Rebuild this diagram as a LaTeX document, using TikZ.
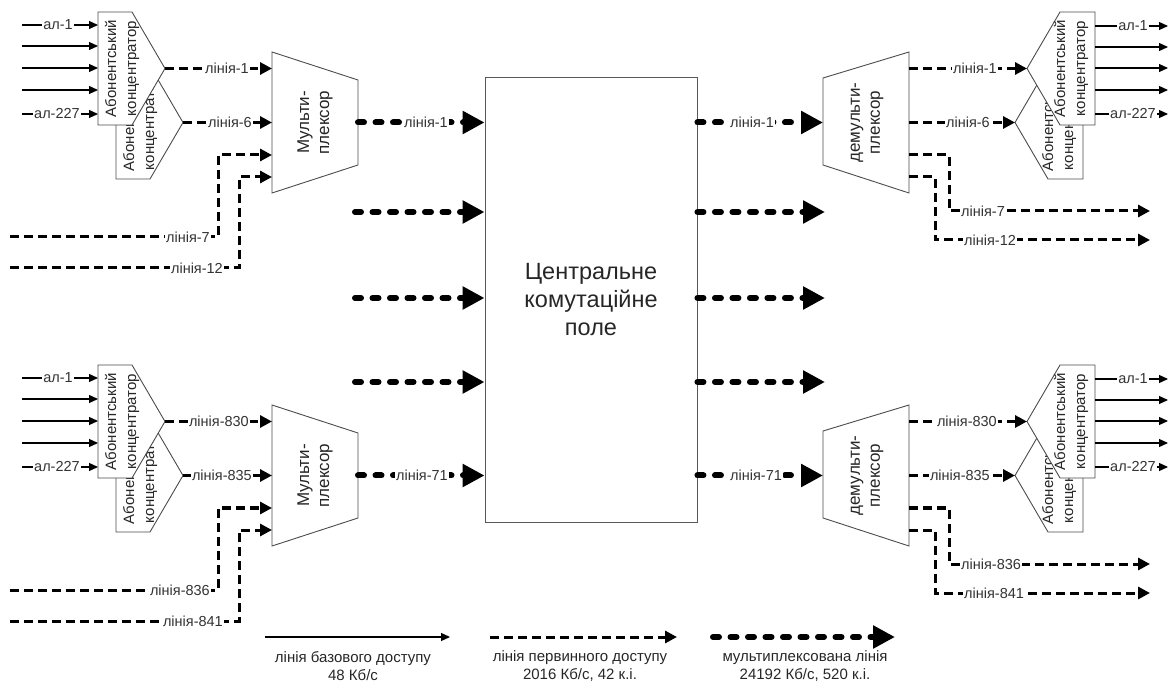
\documentclass[tikz,border=0pt]{standalone}
\usepackage{fontspec}
\setmainfont{Liberation Sans}
\usetikzlibrary{arrows.meta}
\tikzset{
  outline/.style={draw=black!70, line width=0.9pt, fill=white, line join=miter},
  basic/.style={line width=1.2pt, -{Triangle[length=9pt,width=8pt]}},
  prim/.style={line width=3pt, dash pattern=on 9pt off 5pt, -{Triangle[length=12pt,width=12pt]}},
  mult/.style={line width=6pt, line cap=round, dash pattern=on 6pt off 11.5pt, -{Triangle[length=22pt,width=22pt]}},
  lbl/.style={fill=white, inner sep=1pt, text=black!80, font=\fontsize{14.5}{14.5}\selectfont},
  vtext/.style={rotate=90, align=center, text=black!85, font=\fontsize{15}{20}\selectfont},
  mtext/.style={rotate=90, align=center, text=black!85, font=\fontsize{17}{20}\selectfont},
  legtext/.style={align=center, text=black!85, font=\fontsize{15}{18}\selectfont},
}
\begin{document}
\begin{tikzpicture}[x=1pt,y=-1pt]
\useasboundingbox (0,0) rectangle (1176,684);

% central switching field
\node[draw=black!65, line width=0.9pt, minimum width=212pt, minimum height=445pt,
      align=center, text=black!85, font=\fontsize{23.5}{28}\selectfont] (cb) at (591,299.5)
      {Центральне\\комутаційне\\поле};

% multiplexed lines between the field and the spare inputs/outputs
\foreach \yy/\k in {212/2,298/3,382/4} {
  \coordinate (fin\k) at (355,\yy);
  \coordinate (fout\k) at (825,\yy);
  \draw[mult] (fin\k) -- (cb.west |- fin\k);
  \draw[mult] (cb.east |- fout\k) -- (fout\k);
}

% two identical halves: upper and lower group of lines
\foreach \p/\dy/\la/\lb/\lc/\ld/\lm in {t/0/1/6/7/12/1, b/353/830/835/836/841/71} {

  % ---------- left side: subscriber concentrators ----------
  \draw[outline] (116,66+\dy) -- (150,66+\dy) -- (183,122.5+\dy) -- (150,179+\dy) -- (116,179+\dy) -- cycle;
  \node[vtext] (\p lcBt) at (140,122.5+\dy) {Абонентський\\концентратор};
  \draw[outline] (98,12+\dy) -- (132,12+\dy) -- (165,68.5+\dy) -- (132,125+\dy) -- (98,125+\dy) -- cycle;
  \node[vtext] (\p lcAt) at (122,68.5+\dy) {Абонентський\\концентратор};
  \coordinate (\p lcA) at (165,68.5+\dy);
  \coordinate (\p lcB) at (183,122.5+\dy);

  % subscriber lines into the concentrator
  \foreach \yy/\k in {25/1,46/2,68/3,90/4,114/5} {
    \coordinate (\p li\k) at (22,\yy+\dy);
    \coordinate (\p lc\k) at (98,\yy+\dy);
    \draw[basic] (\p li\k) -- (\p lc\k);
  }
  \node[lbl] (\p lal1) at (58,25+\dy) {ал-1};
  \node[lbl] (\p lal227) at (57,114+\dy) {ал-227};

  % multiplexer
  \draw[outline] (272,52+\dy) -- (358,80+\dy) -- (358,165+\dy) -- (272,193+\dy) -- cycle;
  \node[mtext] (\p mux) at (315,122.5+\dy) {Мульти-\\плексор};
  \coordinate (\p mi1) at (272,68.5+\dy);
  \coordinate (\p mi2) at (272,122.5+\dy);
  \coordinate (\p mi3) at (272,155+\dy);
  \coordinate (\p mi4) at (272,177+\dy);
  \coordinate (\p mo) at (358,122.5+\dy);
  \coordinate (\p ls3) at (10,237+\dy);
  \coordinate (\p ls4) at (10,268+\dy);

  \draw[prim] (\p lcA) -- (\p mi1);
  \draw[prim] (\p lcB) -- (\p mi2);
  \draw[prim] (\p ls3) -- (218,237+\dy) |- (\p mi3);
  \draw[prim] (\p ls4) -- (239,268+\dy) |- (\p mi4);
  \node[lbl, anchor=east] (\p ll1) at (250,68.5+\dy) {лінія-\la};
  \node[lbl, anchor=east] (\p ll2) at (253,122.5+\dy) {лінія-\lb};
  \node[lbl, anchor=east] (\p ll3) at (211,237+\dy) {лінія-\lc};
  \node[lbl, anchor=east] (\p ll4) at (224,268+\dy) {лінія-\ld};

  % multiplexer to the field
  \draw[mult] (\p mo) -- (cb.west |- \p mo);
  \node[lbl, anchor=east] (\p lm) at (449,122.5+\dy) {лінія-\lm};

  % ---------- right side: demultiplexer ----------
  \draw[outline] (823,78+\dy) -- (909,52+\dy) -- (909,193+\dy) -- (823,165+\dy) -- cycle;
  \node[mtext] (\p dmx) at (867,122.5+\dy) {демульти-\\плексор};
  \coordinate (\p di) at (823,122.5+\dy);
  \coordinate (\p do1) at (909,68.5+\dy);
  \coordinate (\p do2) at (909,122.5+\dy);
  \coordinate (\p do3) at (909,155+\dy);
  \coordinate (\p do4) at (909,177+\dy);
  \coordinate (\p re3) at (1150,211+\dy);
  \coordinate (\p re4) at (1150,240+\dy);

  \draw[mult] (cb.east |- \p di) -- (\p di);
  \node[lbl, anchor=west] (\p rm) at (729,122.5+\dy) {лінія-\lm};

  % right concentrators
  \draw[outline] (1083,66+\dy) -- (1048,66+\dy) -- (1015,122.5+\dy) -- (1048,179+\dy) -- (1083,179+\dy) -- cycle;
  \node[vtext] (\p rcBt) at (1059,122.5+\dy) {Абонентський\\концентратор};
  \draw[outline] (1095,12+\dy) -- (1060,12+\dy) -- (1027,68.5+\dy) -- (1060,125+\dy) -- (1095,125+\dy) -- cycle;
  \node[vtext] (\p rcAt) at (1071,68.5+\dy) {Абонентський\\концентратор};
  \coordinate (\p rcA) at (1027,68.5+\dy);
  \coordinate (\p rcB) at (1015,122.5+\dy);

  \draw[prim] (\p do1) -- (\p rcA);
  \draw[prim] (\p do2) -- (\p rcB);
  \draw[prim] (\p do3) -| (949,211+\dy) -- (\p re3);
  \draw[prim] (\p do4) -| (935,240+\dy) -- (\p re4);
  \node[lbl, anchor=east] (\p rl1) at (998,68.5+\dy) {лінія-\la};
  \node[lbl, anchor=east] (\p rl2) at (991,122.5+\dy) {лінія-\lb};
  \node[lbl, anchor=west] (\p rl3) at (960,211+\dy) {лінія-\lc};
  \node[lbl, anchor=west] (\p rl4) at (963,240+\dy) {лінія-\ld};

  % subscriber lines out of the concentrator
  \foreach \yy/\k in {26/1,47/2,68/3,90/4,114/5} {
    \coordinate (\p rc\k) at (1095,\yy+\dy);
    \coordinate (\p ro\k) at (1168,\yy+\dy);
    \draw[basic] (\p rc\k) -- (\p ro\k);
  }
  \node[lbl] (\p ral1) at (1133,26+\dy) {ал-1};
  \node[lbl] (\p ral227) at (1133,114+\dy) {ал-227};
}

% legend
\coordinate (la1) at (265,637);  \coordinate (la2) at (450,637);
\coordinate (lb1) at (490,637);  \coordinate (lb2) at (677,637);
\coordinate (lc1) at (713,637);  \coordinate (lc2) at (895,637);
\draw[basic] (la1) -- (la2);
\draw[prim] (lb1) -- (lb2);
\draw[mult] (lc1) -- (lc2);
\node[legtext] (lta) at (353,666) {лінія базового доступу\\48 Кб/с};
\node[legtext] (ltb) at (580,666) {лінія первинного доступу\\2016 Кб/с, 42 к.і.};
\node[legtext] (ltc) at (805,666) {мультиплексована лінія\\24192 Кб/с, 520 к.і.};
\end{tikzpicture}
\end{document}
